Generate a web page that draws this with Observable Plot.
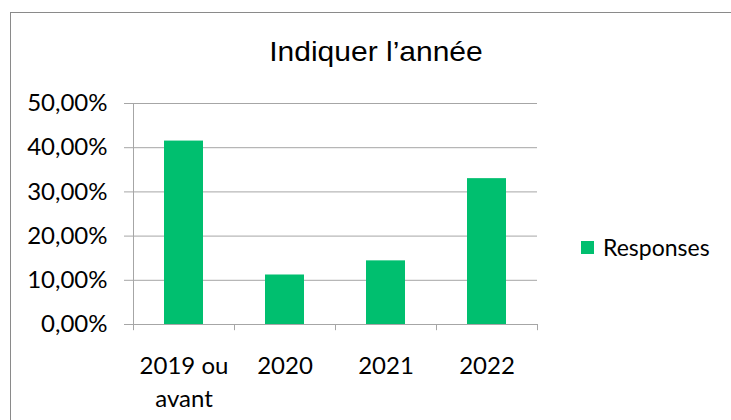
<!DOCTYPE html>
<html>
<head>
<meta charset="utf-8">
<script src="https://cdn.jsdelivr.net/npm/d3@7"></script>
<script src="https://cdn.jsdelivr.net/npm/@observablehq/plot@0.6"></script>
<style>
  html, body { margin: 0; padding: 0; background: #fff; }
  #wrap { position: relative; width: 731px; height: 420px; overflow: hidden; background: #fff; }
  #frame { position: absolute; left: 10px; top: 12px; width: 740px; height: 440px; border-left: 1.5px solid #8a8a8a; border-top: 1.5px solid #8a8a8a; }
  #title { position: absolute; left: 0; width: 752px; top: 33px; text-align: center; font-family: "Liberation Sans", Arial, sans-serif; font-size: 30px; color: #000; line-height: 38px; transform: scaleY(0.92); }
  #legend { position: absolute; left: 581px; top: 233px; font-family: Lato, sans-serif; font-size: 23px; color: #000; display: flex; align-items: center; }
  #legend .sw { width: 13px; height: 13px; margin-right: 9px; }
  #chart { position: absolute; left: 0; top: 0; }
</style>
</head>
<body>
<div id="wrap">
  <div id="frame"></div>
  <div id="chart"></div>
  <div id="title"></div>
  <div id="legend"></div>
</div>
<script>
const titleText = "Indiquer l\u2019ann\u00e9e";
const seriesName = "Responses";
const categories = ["2019 ou avant", "2020", "2021", "2022"];
const tickLabels = ["2019 ou\navant", "2020", "2021", "2022"];
const values = [41.5, 11.2, 14.4, 33.0];
const yTicks = [0, 10, 20, 30, 40, 50];
const barColor = "#00BF6F";
const gridColor = "#a6a6a6";

const data = categories.map((c, i) => ({cat: c, value: values[i]}));
const labelOf = new Map(categories.map((c, i) => [c, tickLabels[i]]));

const W = 731, H = 420;
const mL = 133, mR = 194, mT = 103, mB = 96;
const step = (W - mL - mR) / categories.length;

const plot = Plot.plot({
  width: W,
  height: H,
  marginLeft: mL,
  marginRight: mR,
  marginTop: mT,
  marginBottom: mB,
  style: {fontFamily: "Lato, sans-serif", fontSize: "23px", color: "#000", background: "transparent", overflow: "visible"},
  x: {domain: categories, paddingInner: 0.61, paddingOuter: 0.305, label: null},
  y: {domain: [0, 50], label: null},
  marks: [
    Plot.gridY(yTicks.slice(1), {stroke: gridColor, strokeOpacity: 1, strokeWidth: 1}),
    Plot.barY(data, {x: "cat", y: "value", fill: barColor}),
    Plot.ruleY([0], {stroke: gridColor, strokeWidth: 1}),
    Plot.ruleX([categories[0]], {x: d => d, y1: 0, y2: 50, stroke: gridColor, dx: -step / 2}),
    Plot.ruleX(categories, {x: d => d, y1: 0, y2: -1.4, stroke: gridColor, dx: -step / 2}),
    Plot.ruleX([categories[categories.length - 1]], {x: d => d, y1: 0, y2: -1.4, stroke: gridColor, dx: step / 2}),
    Plot.axisY({
      ticks: yTicks,
      tickFormat: d => d.toFixed(2).replace(".", ",") + "%",
      tickSize: 9,
      tickPadding: 17,
      stroke: gridColor,
      strokeOpacity: 1,
      fontSize: 24,
      label: null
    }),
    Plot.axisX({
      tickSize: 0,
      tickPadding: 26,
      tickFormat: d => labelOf.get(d),
      lineHeight: 1.38,
      fontSize: 24,
      label: null
    })
  ]
});
document.getElementById("chart").appendChild(plot);
document.getElementById("title").textContent = titleText;
document.getElementById("legend").innerHTML =
  `<div class="sw" style="background:${barColor}"></div><span>${seriesName}</span>`;
</script>
</body>
</html>
